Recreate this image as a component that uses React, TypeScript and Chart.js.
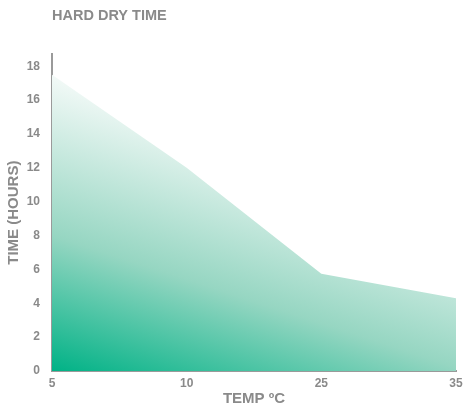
import React, { useEffect, useRef } from "react";
import { Chart, registerables } from "chart.js";

Chart.register(...registerables);

const categories = ["5", "10", "25", "35"];
const hardDryHours = [17.5, 12, 5.75, 4.3];
const yTickValues = [0, 2, 4, 6, 8, 10, 12, 14, 16, 18];

const FONT = '"Liberation Sans", Arial, Helvetica, sans-serif';
const TEXT = "#8a8a8a";

function makeHatch(): CanvasPattern | string {
  const c = document.createElement("canvas");
  c.width = 4;
  c.height = 4;
  const g = c.getContext("2d");
  if (!g) return "rgba(255,255,255,0)";
  g.strokeStyle = "rgba(255,255,255,0.22)";
  g.lineWidth = 1;
  g.beginPath();
  g.moveTo(0, 4);
  g.lineTo(4, 0);
  g.moveTo(-1, 1);
  g.lineTo(1, -1);
  g.moveTo(3, 5);
  g.lineTo(5, 3);
  g.stroke();
  const p = g.createPattern(c, "repeat");
  return p || "rgba(255,255,255,0)";
}

export default function App() {
  const ref = useRef<HTMLCanvasElement | null>(null);

  useEffect(() => {
    if (!ref.current) return;
    const hatch = makeHatch();
    const chart = new Chart(ref.current, {
      type: "line",
      data: {
        labels: categories,
        datasets: [
          {
            data: hardDryHours,
            fill: "origin",
            borderWidth: 0,
            pointRadius: 0,
            tension: 0,
            backgroundColor: (ctx: any) => {
              const { chart } = ctx;
              const area = chart.chartArea;
              if (!area) return "rgba(0,178,134,0.5)";
              const g = chart.ctx.createLinearGradient(
                area.left,
                area.bottom,
                area.left + 100,
                area.top + 10
              );
              g.addColorStop(0, "rgb(0,178,134)");
              g.addColorStop(0.4, "rgb(150,214,194)");
              g.addColorStop(0.88, "rgb(244,250,248)");
              g.addColorStop(1, "rgb(255,255,255)");
              return g;
            },
          },
          {
            data: hardDryHours,
            fill: "origin",
            borderWidth: 0,
            pointRadius: 0,
            tension: 0,
            backgroundColor: hatch as any,
          },
        ],
      },
      options: {
        animation: false,
        responsive: true,
        maintainAspectRatio: false,
        layout: { padding: { left: 0, right: 7, top: 7, bottom: 0 } },
        plugins: {
          legend: { display: false },
          tooltip: { enabled: false },
          title: {
            display: true,
            text: "HARD DRY TIME",
            align: "start",
            fullSize: false,
            color: TEXT,
            font: { family: FONT, size: 14.5, weight: "bold" },
            padding: { top: 0, bottom: 30 },
          },
        },
        scales: {
          x: {
            type: "category",
            offset: false,
            grid: { display: false, drawTicks: false },
            border: { display: true, color: "#9a9a9a", width: 2 },
            afterFit: (scale: any) => {
              scale.height = 38;
              scale.paddingRight = 0;
            },
            ticks: {
              color: TEXT,
              font: { family: FONT, size: 12, weight: "bold" },
              padding: 5,
              maxRotation: 0,
            },
            title: {
              display: true,
              text: "TEMP ºC",
              color: TEXT,
              font: { family: FONT, size: 15, weight: "bold" },
              padding: { top: 0, bottom: 1 },
            },
          },
          y: {
            min: 0,
            max: 18.7,
            grid: { display: false, drawTicks: false },
            border: { display: true, color: "#9a9a9a", width: 2 },
            afterBuildTicks: (scale: any) => {
              scale.ticks = yTickValues.map((v) => ({ value: v }));
            },
            afterFit: (scale: any) => {
              scale.width = 52;
            },
            ticks: {
              color: TEXT,
              font: { family: FONT, size: 12, weight: "bold" },
              padding: 12,
            },
            title: {
              display: true,
              text: "TIME (HOURS)",
              color: TEXT,
              font: { family: FONT, size: 15, weight: "bold" },
              padding: { top: 5, bottom: 0 },
            },
          },
        },
      },
    });
    return () => chart.destroy();
  }, []);

  return (
    <div
      style={{
        position: "fixed",
        left: 0,
        top: 0,
        width: 463,
        height: 409,
        background: "#ffffff",
      }}
    >
      <canvas ref={ref} />
    </div>
  );
}
